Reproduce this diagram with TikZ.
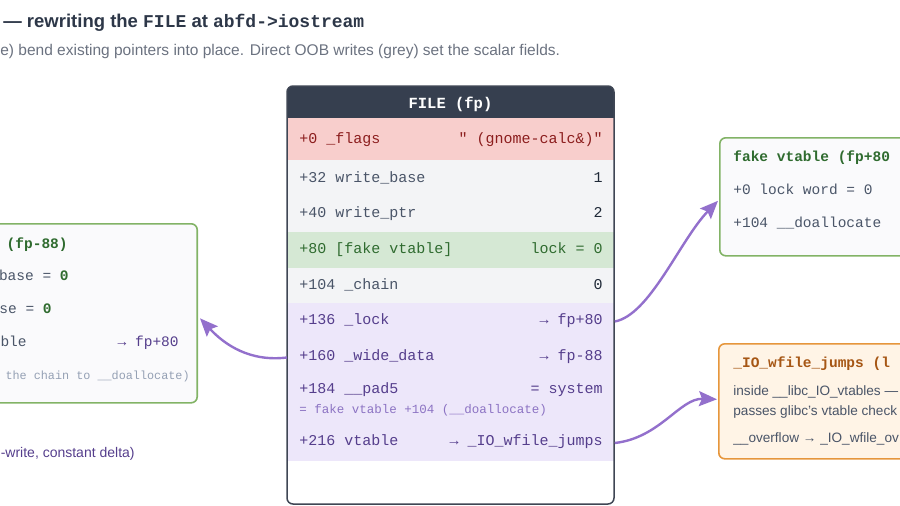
\documentclass[tikz,border=0pt]{standalone}
\usepackage{fontspec}
\setmainfont{Liberation Sans}
\setmonofont{Liberation Mono}
\usetikzlibrary{arrows.meta,calc}

\definecolor{ttlc}{RGB}{45,55,72}
\definecolor{subc}{RGB}{107,114,128}
\definecolor{hdrc}{RGB}{54,63,79}
\definecolor{boxc}{RGB}{63,70,84}
\definecolor{pinkf}{RGB}{248,206,204}
\definecolor{redt}{RGB}{140,30,30}
\definecolor{greyf}{RGB}{243,244,246}
\definecolor{greyt}{RGB}{74,85,104}
\definecolor{valt}{RGB}{31,41,55}
\definecolor{grnf}{RGB}{213,232,212}
\definecolor{grnt}{RGB}{47,107,47}
\definecolor{purf}{RGB}{237,231,250}
\definecolor{purt}{RGB}{85,62,140}
\definecolor{purl}{RGB}{140,115,195}
\definecolor{ptrc}{RGB}{147,112,204}
\definecolor{panelf}{RGB}{250,250,252}
\definecolor{grnb}{RGB}{130,179,102}
\definecolor{orgb}{RGB}{230,150,60}
\definecolor{orgf}{RGB}{255,244,230}
\definecolor{orgt}{RGB}{166,86,20}
\definecolor{notec}{RGB}{148,160,180}

\tikzset{every picture/.style={line width=0.75pt}}

\begin{document}
\begin{tikzpicture}[x=1pt,y=1pt,yscale=-1,xscale=1,
  fld/.style={anchor=mid west,inner sep=0pt,font=\fontsize{15}{18}\ttfamily},
  val/.style={anchor=mid east,inner sep=0pt,font=\fontsize{15}{18}\ttfamily},
  pnl/.style={anchor=mid west,inner sep=0pt,font=\fontsize{14.5}{17}\ttfamily},
  txt/.style={anchor=mid west,inner sep=0pt,font=\fontsize{14}{16}\selectfont},
  row/.style={minimum width=327pt,minimum height=#1,inner sep=0pt,anchor=west},
  panel/.style={rounded corners=6pt,line width=1.6pt,anchor=north west,inner sep=0pt},
  ptr/.style={draw=ptrc,line width=2.4pt,-{Stealth[length=18pt,width=15pt,inset=3pt]}},
]
\useasboundingbox (0,0) rectangle (900,506);
\clip (0,0) rectangle (900,506);

% title lines
\node[anchor=mid west,inner sep=0pt,text=ttlc,font=\fontsize{18.5}{22}\selectfont\bfseries] (title) at (3,25)
  {— rewriting the {\fontsize{18}{20}\ttfamily FILE} at {\fontsize{18}{20}\ttfamily abfd->iostream}};
\node[txt,text=subc,font=\fontsize{15.5}{18}\selectfont] (subtitle) at (0,53)
  {e) bend existing pointers into place. Direct OOB writes (grey) set the scalar fields.};

% FILE struct body
\begin{scope}
\clip[rounded corners=6pt] (287,86) rectangle (614,504);
\fill[white] (287,86) rectangle (614,504);
\fill[hdrc] (287,86) rectangle (614,118);
\node[row=42pt,fill=pinkf] (rflags) at (287,139) {};
\node[row=36pt,fill=greyf] (rwbase) at (287,178) {};
\node[row=36pt,fill=greyf] (rwptr) at (287,214) {};
\node[row=36pt,fill=grnf] (rfvt) at (287,250) {};
\node[row=35pt,fill=greyf] (rchain) at (287,285.5) {};
\node[row=37pt,fill=purf] (rlock) at (287,321.5) {};
\node[row=35pt,fill=purf] (rwide) at (287,357.5) {};
\node[row=50pt,fill=purf] (rpad) at (287,400) {};
\node[row=36pt,fill=purf] (rvt) at (287,443) {};
\end{scope}
\draw[boxc,line width=1.5pt,rounded corners=6pt] (287,86) rectangle (614,504);

\node[inner sep=0pt,text=white,font=\fontsize{15.5}{18}\ttfamily\bfseries] (hdr) at (450.5,104) {FILE (fp)};

\node[fld,text=redt] (f0) at (299,141) {+0 \_flags};
\node[val,text=redt] (v0) at (603,141) {" (gnome-calc\&)"};
\node[fld,text=greyt] (f32) at (299,180) {+32 write\_base};
\node[val,text=valt] (v32) at (603,180) {1};
\node[fld,text=greyt] (f40) at (299,215) {+40 write\_ptr};
\node[val,text=valt] (v40) at (603,215) {2};
\node[fld,text=grnt] (f80) at (299,251) {+80 [fake vtable]};
\node[val,text=grnt] (v80) at (603,251) {lock = 0};
\node[fld,text=greyt] (f104) at (299,287) {+104 \_chain};
\node[val,text=valt] (v104) at (603,287) {0};
\node[fld,text=purt] (f136) at (299,322) {+136 \_lock};
\node[val,text=purt] (v136) at (603,322) {→ fp+80};
\node[fld,text=purt] (f160) at (299,358) {+160 \_wide\_data};
\node[val,text=purt] (v160) at (603,358) {→ fp-88};
\node[fld,text=purt] (f184) at (299,391) {+184 \_\_pad5};
\node[val,text=purt] (v184) at (603,391) {= system};
\node[anchor=mid west,inner sep=0pt,text=purl,font=\fontsize{12.5}{15}\ttfamily] (n184) at (299,411)
  {= fake vtable +104 (\_\_doallocate)};
\node[fld,text=purt] (f216) at (299,443) {+216 vtable};
\node[val,text=purt] (v216) at (603,443) {→ \_IO\_wfile\_jumps};

% side panels
\node[panel,draw=grnb,fill=panelf,minimum width=260pt,minimum height=179pt,anchor=north east] (wdata) at (198,223) {};
\node[pnl,anchor=mid east,text=grnt,font=\fontsize{14.5}{17}\ttfamily\bfseries] (wd0) at (68,246) {(fp-88)};
\node[pnl,anchor=mid east,text=greyt] (wd1) at (69,278) {base = \textbf{\textcolor{grnt}{0}}};
\node[pnl,anchor=mid east,text=greyt] (wd2) at (52,311) {se = \textbf{\textcolor{grnt}{0}}};
\node[pnl,anchor=mid east,text=greyt] (wd3) at (27,344) {ble};
\node[pnl,anchor=mid east,text=purt] (wd3v) at (179,344) {→ fp+80};
\node[pnl,anchor=mid east,text=notec,font=\fontsize{11.8}{14}\ttfamily] (wd4) at (190,377) {the chain to \_\_doallocate)};

\node[panel,draw=grnb,fill=panelf,minimum width=220pt,minimum height=118pt] (fvt) at (719,137) {};
\node[pnl,text=grnt,font=\fontsize{14.5}{17}\ttfamily\bfseries] (fvt0) at (733,159) {fake vtable (fp+80};
\node[pnl,text=greyt] (fvt1) at (733,192) {+0 lock word = 0};
\node[pnl,text=greyt] (fvt2) at (733,225) {+104 \_\_doallocate};

\node[panel,draw=orgb,fill=orgf,minimum width=220pt,minimum height=115pt] (wfj) at (718,343) {};
\node[pnl,text=orgt,font=\fontsize{14.5}{17}\ttfamily\bfseries] (wfj0) at (733,365) {\_IO\_wfile\_jumps (l};
\node[txt,text=greyt,font=\fontsize{13.6}{16}\selectfont] (wfj1) at (733,393) {inside \_\_libc\_IO\_vtables —};
\node[txt,text=greyt,font=\fontsize{13.6}{16}\selectfont] (wfj2) at (733,413) {passes glibc's vtable check};
\node[txt,text=greyt,font=\fontsize{13.6}{16}\selectfont] (wfj3) at (733,440) {\_\_overflow → \_IO\_wfile\_ov};

\node[txt,anchor=mid east,text=purt] (legend) at (135,455) {-write, constant delta)};

% pointer arrows
\draw[ptr] (rlock.east) .. controls (650,315) and (680,240) .. ($(fvt.west)+(-1,4)$);
\draw[ptr] (rwide.west) .. controls (250,362) and (225,345) .. ($(wdata.east)+(2,5)$);
\draw[ptr] (rvt.east) .. controls (660,438) and (680,398) .. ($(wfj.west)+(-1,-2)$);

\end{tikzpicture}
\end{document}
